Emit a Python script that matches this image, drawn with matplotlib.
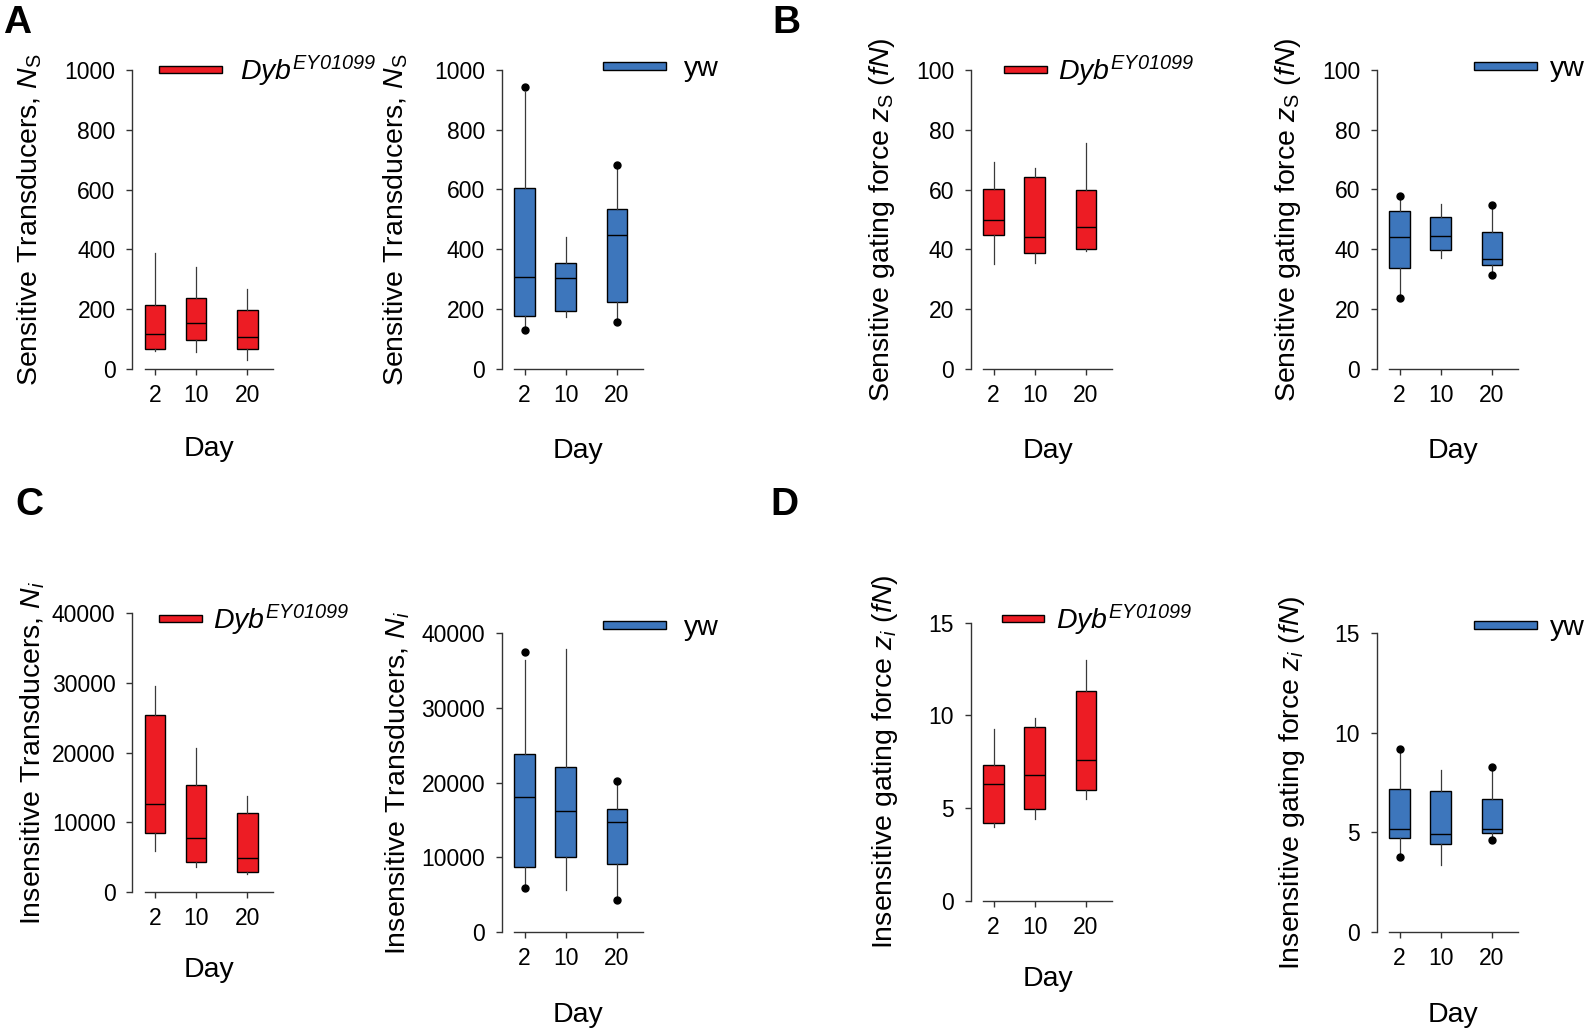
import matplotlib
matplotlib.use("Agg")
import matplotlib.pyplot as plt
from matplotlib.patches import Patch

plt.rcParams["font.family"] = ["Liberation Sans", "DejaVu Sans"]
plt.rcParams["mathtext.fontset"] = "custom"
# digits inside italic math fall back to "rm", so rm is italic here and sf is the upright face
plt.rcParams["mathtext.rm"] = "Liberation Sans:italic"
plt.rcParams["mathtext.it"] = "Liberation Sans:italic"
plt.rcParams["mathtext.sf"] = "Liberation Sans"
plt.rcParams["mathtext.bf"] = "Liberation Sans:bold"

days = [2, 10, 20]
day_labels = ["2", "10", "20"]

# rows per day: whisker low, q1, median, q3, whisker high
ns_dyb = [[59, 67, 117, 212, 388], [54, 96, 152, 237, 341], [30, 65, 105, 195, 266]]
ns_dyb_out = [[], [], []]
ns_yw = [[140, 177, 306, 604, 928], [172, 193, 302, 354, 440], [168, 222, 448, 533, 670]]
ns_yw_out = [[131, 942], [], [157, 683]]

zs_dyb = [[35.0, 44.9, 49.7, 60.3, 69.2], [35.4, 38.8, 44.0, 64.4, 67.2], [39.6, 40.2, 47.5, 60.0, 75.5]]
zs_dyb_out = [[], [], []]
zs_yw = [[24.8, 33.7, 44.1, 52.7, 57.0], [37.1, 39.6, 44.5, 50.8, 55.0], [32.5, 34.6, 36.6, 45.8, 53.7]]
zs_yw_out = [[23.8, 57.9], [], [31.5, 54.8]]

ni_dyb = [[5840, 8480, 12650, 25440, 29560], [3590, 4220, 7710, 15330, 20700], [2540, 2870, 4790, 11350, 13700]]
ni_dyb_out = [[], [], []]
ni_yw = [[6300, 8630, 18100, 23780, 36400], [5590, 10060, 16180, 22120, 37940], [4700, 9030, 14750, 16400, 19660]]
ni_yw_out = [[5860, 37500], [], [4250, 20250]]

zi_dyb = [[3.97, 4.20, 6.31, 7.33, 9.29], [4.42, 4.96, 6.77, 9.39, 9.86], [5.48, 5.98, 7.62, 11.32, 13.0]]
zi_dyb_out = [[], [], []]
zi_yw = [[3.9, 4.69, 5.16, 7.17, 9.0], [3.35, 4.41, 4.93, 7.06, 8.13], [4.78, 4.96, 5.16, 6.67, 8.13]]
zi_yw_out = [[3.74, 9.17], [], [4.63, 8.30]]

ticks_ns = [0, 200, 400, 600, 800, 1000]
ticks_zs = [0, 20, 40, 60, 80, 100]
ticks_ni = [0, 10000, 20000, 30000, 40000]
ticks_zi = [0, 5, 10, 15]

red = "#ED1C24"
blue = "#3D76BC"
dyb_label = r"$Dyb^{EY01099}$"
yw_label = "yw"

lab_ns = r"Sensitive Transducers, $N_\mathsf{S}$"
lab_zs = r"Sensitive gating force $z_\mathsf{S}$ ($fN$)"
lab_ni = r"Insensitive Transducers, $N_i$"
lab_zi = r"Insensitive gating force $z_i$ ($fN$)"

W, H = 1591, 1030
fig = plt.figure(figsize=(W / 100, H / 100), dpi=100)

# (data, outliers, colour, legend label, ylabel, yticks,
#  axes px (left, top, bottom), legend px (x, y, handle length, pad), ylabel x, xlabel offset px)
panels = [
    (ns_dyb, ns_dyb_out, red, dyb_label, lab_ns, ticks_ns, (132, 70.3, 368.5), (159, 68, 2.23, 0.6), -0.624, 68),
    (ns_yw, ns_yw_out, blue, yw_label, lab_ns, ticks_ns, (501.5, 70, 368.7), (603, 66, 2.23, 0.6), -0.65, 69),
    (zs_dyb, zs_dyb_out, red, dyb_label, lab_zs, ticks_zs, (970.6, 70.3, 368.7), (1004, 68, 1.5, 0.4), -0.525, 69),
    (zs_yw, zs_yw_out, blue, yw_label, lab_zs, ticks_zs, (1376.5, 70, 368.7), (1474, 66, 2.2, 0.48), -0.52, 69),
    (ni_dyb, ni_dyb_out, red, dyb_label, lab_ni, ticks_ni, (132, 613.3, 891.7), (159, 617, 1.5, 0.4), -0.6, 65),
    (ni_yw, ni_yw_out, blue, yw_label, lab_ni, ticks_ni, (501.5, 633.3, 931.7), (603, 625, 2.23, 0.6), -0.635, 70),
    (zi_dyb, zi_dyb_out, red, dyb_label, lab_zi, ticks_zi, (970.6, 622.7, 901), (1002, 617, 1.48, 0.42), -0.5, 65),
    (zi_yw, zi_yw_out, blue, yw_label, lab_zi, ticks_zi, (1376.5, 633.3, 931.7), (1474, 625, 2.2, 0.48), -0.49, 70),
]

for data, outs, col, leg, ylab, yt, (l, t, b), (lx, ly, hl, tp), ylx, xoff in panels:
    ax = fig.add_axes([l / W, 1 - b / H, 141 / W, (b - t) / H])
    stats = []
    for row, fl in zip(data, outs):
        stats.append(dict(whislo=row[0], q1=row[1], med=row[2], q3=row[3], whishi=row[4], fliers=fl))
    ax.bxp(stats, positions=days, widths=4, patch_artist=True, showcaps=False,
           boxprops=dict(facecolor=col, edgecolor="black", linewidth=1.0),
           medianprops=dict(color="black", linewidth=1.0),
           whiskerprops=dict(color="#3a3a3a", linewidth=0.9),
           flierprops=dict(marker="o", markerfacecolor="black", markeredgecolor="black", markersize=5))
    ax.set_xlim(-2.5, 25)
    ax.set_ylim(yt[0], yt[-1])
    ax.set_xticks(days)
    ax.set_xticklabels(day_labels)
    ax.set_yticks(yt)
    ax.set_yticklabels([str(v) for v in yt])
    for s in ["top", "right"]:
        ax.spines[s].set_visible(False)
    for s in ["left", "bottom"]:
        ax.spines[s].set_color("#333333")
        ax.spines[s].set_linewidth(1.0)
    ax.spines["bottom"].set_bounds(0, 25)
    ax.tick_params(axis="both", direction="out", length=4.3, width=1.0, color="#333333", labelsize=16.5)
    ax.tick_params(axis="y", pad=7.5)
    ax.tick_params(axis="x", pad=6.5)
    ax.set_ylabel(ylab, fontsize=20.5)
    ax.yaxis.set_label_coords(ylx, 0.5)
    ax.set_xlabel("Day", fontsize=20.5)
    ax.xaxis.set_label_coords(15 / 27.5, -xoff / (b - t))

    handle = Patch(facecolor=col, edgecolor="black", linewidth=1.0)
    ax.legend([handle], [leg], loc="center left", bbox_to_anchor=(lx / W, 1 - (ly + 3) / H),
              bbox_transform=fig.transFigure, frameon=False, fontsize=20.5,
              borderpad=0, borderaxespad=0, handlelength=hl, handleheight=0.05,
              handletextpad=tp)

for letter, x, y in [("A", 3, 33), ("B", 772, 33), ("C", 15, 515), ("D", 770, 515)]:
    fig.text(x / W, 1 - y / H, letter, fontsize=28, fontweight="bold", ha="left", va="baseline")

fig.savefig("out.png", dpi=100)
